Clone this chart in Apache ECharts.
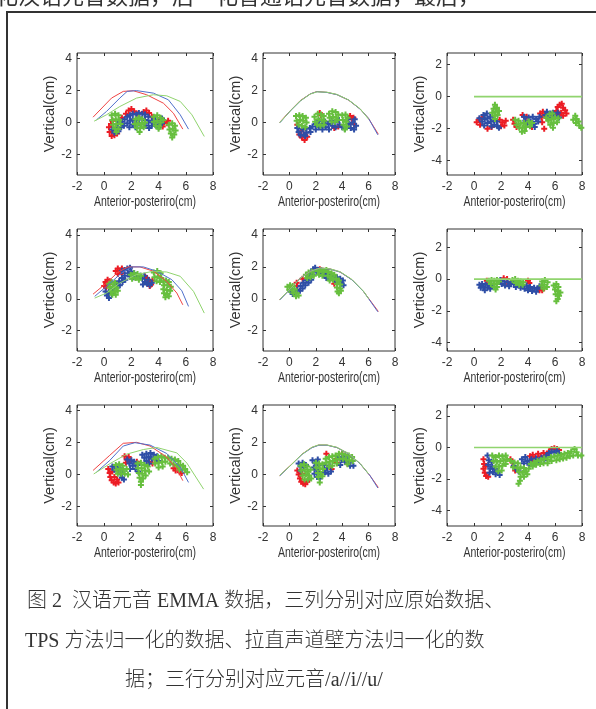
<!DOCTYPE html>
<html><head><meta charset="utf-8">
<script src="https://cdn.jsdelivr.net/npm/echarts@6/dist/echarts.min.js"></script>
<style>html,body{margin:0;padding:0;background:#fff}#c{width:596px;height:709px}</style>
</head><body><div id="c"></div>
<script>
// ---------- tick labels ----------
const xTicks = [-2, 0, 2, 4, 6, 8];
const yTicksTongue = [-2, 0, 2, 4];
const yTicksFlat = [-4, -2, 0, 2];
const xName = 'Anterior-posteriro(cm)';
const yName = 'Vertical(cm)';

// ---------- panel 1: /a/ raw ----------
const p1LineR = [[-0.82,0.33],[0.54,1.53],[1.4,1.95],[2.14,1.99],[3.12,1.74],[4.35,1.21],[5.09,0.58],[5.78,-0.42]];
const p1LineB = [[-0.57,0.16],[0.17,0.69],[1.15,1.53],[1.69,1.95],[2.38,2.0],[3.62,1.84],[4.72,1.42],[5.59,0.48],[6.2,-0.42]];
const p1LineG = [[-0.74,0.08],[0.17,0.48],[1.15,1.0],[2.38,1.53],[3.62,1.74],[4.6,1.67],[5.59,1.32],[6.45,0.48],[7.36,-0.88]];
const p1R = [[0.35,-0.3],[0.4,-0.6],[0.55,-0.85],[0.75,-0.8],[0.5,-0.1],[0.7,-0.5],[0.95,-0.7],[0.6,0.1],[1.3,0.3],[1.6,0.55],[1.8,0.75],[2.0,0.85],[2.2,0.7],[2.5,0.55],[2.9,0.65],[3.1,0.75],[3.3,0.6],[3.5,0.35],[3.7,0.15],[4.1,0.2],[4.4,0.0],[4.6,-0.05],[4.7,0.1],[4.3,-0.25]];
const p1B = [[0.6,-0.45],[0.75,-0.65],[0.9,-0.35],[1.05,-0.55],[1.0,-0.1],[1.25,-0.3],[1.3,0.05],[1.5,0.2],[1.45,-0.2],[1.7,0.35],[1.7,-0.05],[1.9,0.45],[1.9,0.1],[1.85,-0.3],[2.1,0.55],[2.1,0.2],[2.1,-0.15],[2.35,0.5],[2.35,0.15],[2.3,-0.3],[2.55,0.6],[2.6,0.3],[2.55,-0.05],[2.8,0.55],[2.8,0.2],[3.0,0.5],[3.0,0.15],[3.05,-0.2],[3.25,0.35],[3.25,0.0],[3.3,-0.35],[3.5,0.1],[3.5,-0.2],[3.75,0.15],[3.75,-0.15],[4.0,0.0],[4.0,-0.3],[4.25,-0.05],[4.25,0.25]];
const p1G = [[0.55,0.45],[0.8,0.55],[1.05,0.45],[0.6,0.15],[0.85,0.2],[1.1,0.15],[0.65,-0.15],[0.9,-0.1],[1.2,-0.1],[0.8,-0.4],[1.05,-0.4],[0.9,-0.6],[2.3,0.2],[2.55,0.3],[2.8,0.2],[3.0,0.0],[2.25,-0.1],[2.5,-0.05],[2.75,-0.1],[2.4,-0.35],[2.65,-0.35],[2.9,-0.3],[2.6,-0.6],[3.65,0.35],[3.9,0.45],[4.15,0.3],[3.65,0.05],[3.9,0.1],[4.15,0.0],[4.35,0.15],[3.8,-0.2],[4.05,-0.25],[4.0,-0.4],[4.75,-0.15],[5.0,-0.05],[5.2,-0.2],[4.8,-0.45],[5.05,-0.4],[5.25,-0.5],[4.9,-0.7],[5.15,-0.75],[5.0,-0.95]];

// ---------- panel 2: /a/ TPS ----------
const p2LineR = [[-0.74,0.0],[0.07,0.74],[0.82,1.37],[1.58,1.79],[2.08,1.94],[2.84,1.89],[3.59,1.75],[4.47,1.41],[5.36,0.84],[5.98,0.27],[6.74,-0.74]];
const p2LineB = [[-0.72,-0.02],[0.1,0.75],[0.85,1.36],[1.6,1.8],[2.1,1.93],[2.86,1.88],[3.62,1.74],[4.5,1.4],[5.38,0.82],[6.0,0.25],[6.7,-0.78]];
const p2LineG = [[-0.74,-0.02],[0.07,0.72],[0.82,1.35],[1.58,1.78],[2.08,1.92],[2.84,1.9],[3.59,1.76],[4.47,1.42],[5.36,0.86],[6.0,0.2]];
const p2R = [[0.75,-0.75],[0.95,-0.95],[1.15,-1.1],[1.35,-0.9],[0.9,-0.55],[2.3,0.6],[2.4,0.45],[3.4,-0.35],[3.7,-0.25],[4.6,0.4],[4.75,0.2],[4.85,0.3],[4.9,-0.1],[0.6,-0.15]];
const p2B = [[0.6,-0.35],[0.7,-0.6],[0.85,-0.8],[1.0,-0.45],[1.1,-0.75],[1.25,-0.4],[1.3,-0.65],[1.55,-0.35],[1.6,-0.6],[1.75,-0.25],[1.2,-0.85],[2.0,-0.1],[2.0,-0.45],[2.25,0.1],[2.25,-0.3],[2.45,-0.1],[2.5,-0.45],[2.7,0.05],[2.75,-0.3],[2.95,-0.1],[3.0,-0.45],[3.2,0.1],[3.25,-0.2],[3.45,0.0],[3.5,-0.3],[3.75,0.15],[3.8,-0.15],[4.0,-0.3],[4.2,-0.4],[4.45,0.2],[4.5,-0.1],[4.65,-0.35],[4.8,0.0],[4.9,-0.45],[5.05,-0.2],[4.95,0.2]];
const p2G = [[0.5,0.4],[0.75,0.45],[1.0,0.4],[1.25,0.3],[0.55,0.1],[0.8,0.15],[1.05,0.1],[1.3,0.0],[0.7,-0.15],[0.95,-0.2],[1.2,-0.3],[1.9,0.35],[2.15,0.55],[2.4,0.5],[2.6,0.4],[1.95,0.05],[2.2,0.2],[2.45,0.15],[2.65,0.1],[2.1,-0.15],[2.35,-0.2],[2.6,-0.15],[3.0,0.55],[3.25,0.7],[3.5,0.65],[3.7,0.5],[3.05,0.3],[3.3,0.35],[3.55,0.3],[3.2,0.05],[3.45,0.05],[3.65,0.15],[4.0,0.45],[4.25,0.5],[4.4,0.3],[4.05,0.15],[4.3,0.05],[4.1,-0.15],[4.35,-0.25],[4.2,-0.45]];

// ---------- panel 3: /a/ straightened ----------
const p3LineG = [[0,0],[8,0]];
const p3R = [[0.2,-1.6],[0.35,-1.45],[0.45,-1.75],[0.6,-1.3],[1.0,-2.0],[1.3,-1.9],[1.9,-1.45],[2.1,-1.6],[2.25,-1.8],[2.35,-1.5],[2.0,-1.85],[2.9,-1.45],[3.0,-1.7],[3.15,-1.9],[3.6,-1.15],[3.9,-1.25],[4.3,-1.9],[4.9,-1.05],[5.0,-1.3],[5.1,-0.95],[5.05,-1.6],[5.25,-1.2],[6.1,-0.9],[6.2,-0.65],[6.35,-0.5],[6.5,-0.45],[6.6,-0.7],[6.75,-0.85],[6.45,-1.0],[6.3,-1.1],[6.85,-1.05],[6.6,-1.2],[5.8,-1.15],[5.2,-2.0]];
const p3B = [[0.4,-1.35],[0.6,-1.55],[0.7,-1.15],[0.8,-1.4],[0.75,-1.8],[0.95,-1.05],[1.0,-1.35],[1.0,-1.65],[1.2,-1.25],[1.25,-1.55],[1.3,-1.85],[1.45,-1.45],[1.5,-1.75],[1.7,-1.55],[1.75,-1.85],[1.85,-1.95],[3.7,-1.25],[3.8,-1.5],[3.95,-1.7],[4.05,-1.3],[4.2,-1.55],[4.35,-1.25],[4.45,-1.7],[4.6,-1.4],[4.75,-1.55],[4.85,-1.25],[4.5,-1.9],[5.3,-1.15],[5.5,-1.3],[5.65,-1.05],[5.85,-1.0],[6.0,-1.2],[6.2,-1.0],[6.3,-1.3],[5.4,-0.95]];
const p3G = [[1.55,-0.5],[1.45,-0.75],[1.7,-0.7],[1.35,-1.0],[1.6,-0.95],[1.85,-0.9],[1.5,-1.2],[1.75,-1.15],[1.55,-1.4],[3.05,-1.45],[3.3,-1.5],[3.15,-1.75],[3.45,-1.7],[3.7,-1.65],[3.35,-1.95],[3.6,-1.95],[3.85,-1.9],[3.55,-2.2],[3.75,-2.15],[4.05,-1.55],[4.3,-1.65],[4.15,-1.85],[5.35,-1.3],[5.6,-1.1],[5.8,-1.05],[5.5,-1.5],[5.75,-1.4],[6.0,-1.3],[6.25,-1.35],[5.65,-1.75],[5.9,-1.65],[6.15,-1.6],[5.85,-1.95],[7.35,-1.45],[7.5,-1.2],[7.6,-1.4],[7.55,-1.65],[7.75,-1.55],[7.8,-1.8],[7.95,-1.95]];

// ---------- panel 4: /i/ raw ----------
const p4LineR = [[-0.82,0.29],[0.17,0.99],[1.03,1.68],[1.77,2.0],[2.63,2.0],[3.62,1.73],[4.6,1.09],[5.34,0.36],[5.78,-0.38]];
const p4LineB = [[-0.7,0.15],[0.17,0.78],[1.28,1.62],[2.01,2.0],[2.88,2.0],[3.86,1.73],[4.97,1.2],[5.71,0.5],[6.2,-0.48]];
const p4LineG = [[-0.7,0.04],[0.17,0.36],[1.15,0.99],[2.38,1.52],[3.62,1.73],[4.6,1.68],[5.59,1.41],[6.57,0.46],[7.36,-0.9]];
const p4R = [[0.0,0.8],[0.1,1.05],[0.25,1.2],[0.3,0.9],[0.15,0.7],[0.4,1.1],[0.85,1.75],[1.0,1.9],[1.15,1.75],[1.3,1.9],[1.0,1.55],[1.3,1.6],[3.15,1.3],[3.3,1.1],[3.45,0.9],[3.55,1.15],[3.35,0.8],[3.0,1.4]];
const p4B = [[0.1,0.45],[0.2,0.2],[0.35,0.05],[0.35,0.4],[0.5,0.55],[0.55,0.3],[0.7,0.75],[0.75,0.5],[0.9,0.95],[0.95,0.7],[1.1,1.1],[1.15,0.85],[1.3,1.3],[1.35,1.05],[1.5,1.45],[1.55,1.2],[1.3,1.75],[1.5,1.8],[1.7,1.9],[1.9,1.95],[1.75,1.6],[2.0,1.7],[2.2,1.6],[1.9,1.4],[2.15,1.35],[2.35,1.45],[2.65,1.45],[2.8,1.25],[2.95,1.45],[3.0,1.05],[3.15,0.95],[3.25,1.2],[2.85,0.9],[3.35,0.85],[3.5,1.0]];
const p4G = [[0.35,0.95],[0.55,1.05],[0.8,1.0],[0.4,0.7],[0.65,0.75],[0.9,0.7],[0.5,0.45],[0.75,0.45],[1.0,0.5],[0.6,0.25],[0.85,0.25],[1.95,1.5],[2.2,1.6],[2.45,1.55],[2.7,1.45],[2.05,1.25],[2.3,1.3],[2.55,1.2],[3.65,1.65],[3.9,1.75],[4.15,1.6],[3.7,1.35],[3.95,1.4],[4.2,1.3],[3.85,1.1],[4.1,1.05],[4.35,1.1],[4.55,1.15],[4.75,1.05],[4.4,0.85],[4.65,0.85],[4.9,0.75],[4.35,0.6],[4.6,0.55],[4.85,0.5],[4.4,0.35],[4.65,0.3],[4.5,0.1],[4.75,0.15]];

// ---------- panel 5: /i/ TPS ----------
const p5LineR = [[-0.74,-0.06],[0.07,0.63],[0.82,1.3],[1.58,1.73],[2.33,1.94],[3.09,1.87],[3.84,1.68],[4.73,1.2],[5.61,0.46],[6.74,-0.8]];
const p5LineB = [[-0.72,-0.07],[0.1,0.64],[0.85,1.31],[1.6,1.74],[2.35,1.93],[3.1,1.86],[3.86,1.67],[4.75,1.18],[5.63,0.44],[6.7,-0.82]];
const p5LineG = [[-0.74,-0.05],[0.07,0.62],[0.82,1.29],[1.58,1.72],[2.33,1.93],[3.09,1.88],[3.84,1.7],[4.73,1.22],[5.61,0.48],[6.0,0.0]];
const p5R = [[0.55,1.0],[0.6,0.8],[2.85,1.6],[3.05,1.5],[3.45,1.2],[3.4,0.95],[1.0,1.25],[2.3,1.85]];
const p5B = [[0.1,0.45],[0.25,0.3],[0.45,0.35],[0.6,0.55],[0.8,0.5],[0.85,0.8],[1.0,0.65],[1.05,1.0],[1.2,0.85],[1.3,1.15],[1.45,1.0],[1.5,1.35],[1.65,1.2],[1.6,1.6],[1.75,1.5],[1.8,1.85],[1.95,1.95],[2.05,1.7],[2.2,1.8],[2.3,1.55],[2.45,1.7],[2.6,1.5],[2.7,1.75],[2.8,1.3],[2.95,1.55],[3.05,1.25],[3.2,1.35],[3.35,1.45],[3.5,1.1],[3.6,1.35],[3.75,1.05],[3.85,1.25],[3.95,0.95],[4.05,1.15],[4.1,0.85]];
const p5G = [[-0.15,0.75],[0.05,0.85],[0.25,0.8],[0.0,0.55],[0.2,0.6],[0.4,0.6],[0.3,0.35],[0.55,0.35],[0.7,0.2],[0.5,0.15],[1.25,1.5],[1.45,1.65],[1.7,1.7],[1.35,1.3],[1.6,1.35],[1.85,1.45],[2.15,1.75],[2.4,1.8],[2.6,1.7],[2.25,1.5],[2.5,1.45],[2.8,1.8],[2.95,1.7],[3.2,1.6],[2.9,1.45],[3.15,1.35],[3.4,1.5],[3.05,1.15],[3.3,1.2],[3.55,1.25],[3.75,1.15],[3.6,0.95],[3.85,0.9],[3.6,0.7],[3.85,0.65],[3.65,0.45],[3.9,0.5],[3.75,0.35]];

// ---------- panel 6: /i/ straightened ----------
const p6LineG = [[0,0],[8,0]];
const p6R = [[0.95,-0.1],[2.2,0.05],[2.45,0.0],[2.6,-0.3],[4.0,-0.1],[4.1,-0.25],[4.95,-0.55],[5.05,-0.7],[4.85,-0.7]];
const p6B = [[0.4,-0.35],[0.5,-0.55],[0.6,-0.3],[0.7,-0.5],[0.8,-0.7],[0.85,-0.35],[1.0,-0.55],[1.1,-0.3],[1.2,-0.6],[1.3,-0.4],[1.95,-0.05],[2.05,-0.3],[2.25,-0.15],[2.3,-0.4],[2.5,-0.2],[2.6,-0.45],[2.75,-0.25],[2.95,-0.3],[3.1,-0.5],[3.3,-0.35],[3.45,-0.55],[3.6,-0.4],[3.75,-0.6],[3.9,-0.4],[4.0,-0.7],[4.15,-0.5],[4.3,-0.75],[4.45,-0.55],[4.6,-0.8],[4.7,-0.6],[4.85,-0.45]];
const p6G = [[1.1,-0.1],[1.3,-0.05],[1.5,-0.1],[1.7,-0.05],[1.85,-0.15],[1.25,-0.3],[1.45,-0.3],[1.65,-0.3],[1.5,-0.5],[1.7,-0.5],[1.6,-0.65],[2.85,-0.05],[3.05,0.0],[3.25,-0.1],[3.45,-0.15],[3.65,-0.2],[3.1,-0.25],[3.35,-0.35],[3.6,-0.35],[5.05,-0.15],[5.25,-0.05],[5.45,-0.2],[5.0,-0.4],[5.2,-0.35],[5.4,-0.5],[5.15,-0.6],[5.9,-0.4],[6.1,-0.3],[6.25,-0.5],[6.0,-0.65],[6.2,-0.75],[6.4,-0.85],[6.05,-0.95],[6.3,-1.05],[6.2,-1.25],[6.1,-1.4]];

// ---------- panel 7: /u/ raw ----------
const p7LineR = [[-0.82,0.26],[0.41,1.21],[1.4,1.96],[2.38,2.02],[3.37,1.79],[4.6,1.1],[5.34,0.36],[5.78,-0.38]];
const p7LineB = [[-0.57,0.15],[0.41,0.89],[1.4,1.79],[2.26,2.0],[3.37,1.85],[4.6,1.32],[5.59,0.47],[6.2,-0.49]];
const p7LineG = [[-0.77,0.04],[0.41,0.68],[1.65,1.28],[2.88,1.57],[3.86,1.7],[5.34,1.36],[6.08,0.72],[7.31,-0.91]];
const p7R = [[0.3,0.35],[0.4,0.1],[0.45,-0.15],[0.55,-0.35],[0.7,-0.5],[0.85,-0.55],[0.6,0.2],[0.75,-0.15],[0.95,-0.3],[1.05,-0.5],[1.5,1.15],[1.65,0.95],[1.8,1.1],[1.95,0.85],[1.6,0.75],[2.4,0.8],[3.3,0.8],[3.55,0.7],[5.1,0.4],[5.25,0.25],[5.4,0.4],[5.55,0.15],[5.7,0.1]];
const p7B = [[0.6,0.5],[0.75,0.3],[0.9,0.5],[1.0,0.25],[1.15,0.4],[1.2,0.05],[1.35,0.2],[1.3,-0.2],[1.45,-0.3],[1.7,0.95],[1.85,0.7],[2.0,0.9],[2.1,0.55],[2.2,0.8],[1.9,0.35],[2.3,0.35],[2.45,0.6],[2.5,0.2],[2.8,1.25],[2.95,1.05],[3.1,1.3],[3.1,0.85],[3.25,1.1],[3.4,1.35],[3.5,1.0],[3.65,1.25],[3.75,0.95],[3.9,1.15],[4.0,0.85],[3.3,0.7]];
const p7G = [[0.85,0.6],[1.1,0.65],[1.35,0.55],[0.9,0.3],[1.15,0.35],[1.4,0.3],[1.65,0.35],[1.0,0.05],[1.25,0.05],[1.5,0.05],[1.75,0.0],[2.45,0.7],[2.7,0.75],[2.95,0.6],[3.2,0.5],[2.5,0.4],[2.75,0.4],[3.0,0.25],[3.3,0.2],[2.55,0.1],[2.8,0.05],[3.05,-0.05],[2.6,-0.2],[2.85,-0.25],[2.7,-0.45],[2.7,-0.65],[3.7,1.0],[3.95,1.1],[4.2,1.15],[4.45,1.05],[3.75,0.7],[4.0,0.75],[4.25,0.8],[4.5,0.8],[4.0,0.45],[4.3,0.5],[4.7,1.05],[4.95,1.0],[5.2,0.95],[5.45,0.85],[4.85,0.7],[5.1,0.65],[5.35,0.55],[5.6,0.6],[5.8,0.55],[5.5,0.3],[5.75,0.3],[5.95,0.35],[6.1,0.15]];

// ---------- panel 8: /u/ TPS ----------
const p8LineR = [[-0.74,-0.06],[0.07,0.57],[0.95,1.28],[1.7,1.7],[2.21,1.85],[2.84,1.85],[3.59,1.7],[4.47,1.32],[5.36,0.68],[6.1,-0.06],[6.74,-0.81]];
const p8LineB = [[-0.72,-0.07],[0.1,0.58],[0.97,1.27],[1.72,1.69],[2.23,1.84],[2.86,1.84],[3.61,1.69],[4.49,1.3],[5.38,0.66],[6.12,-0.08],[6.7,-0.84]];
const p8LineG = [[-0.74,-0.05],[0.07,0.56],[0.95,1.27],[1.7,1.71],[2.21,1.86],[2.84,1.86],[3.59,1.71],[4.47,1.33],[5.36,0.7],[6.0,0.05]];
const p8R = [[0.6,0.25],[0.7,0.0],[0.8,-0.25],[0.9,-0.45],[1.05,-0.55],[1.2,-0.6],[1.35,-0.45],[1.45,-0.3],[0.95,0.05],[2.8,1.3],[3.45,0.85],[3.6,0.75],[4.0,1.3],[3.2,0.35],[4.4,0.7]];
const p8B = [[0.7,0.7],[0.85,0.5],[1.0,0.75],[1.1,0.45],[1.25,0.6],[0.85,0.25],[1.75,0.9],[1.95,0.75],[2.15,0.95],[2.2,0.6],[1.85,0.45],[2.05,0.3],[2.25,0.15],[1.9,0.05],[2.1,-0.15],[2.3,-0.25],[2.65,0.6],[2.85,0.4],[3.05,0.55],[2.7,0.15],[2.95,0.05],[3.15,0.2],[3.75,1.1],[3.95,0.9],[4.1,1.15],[4.2,0.8],[4.35,1.0],[4.5,0.75],[4.6,0.55],[3.85,0.6],[4.85,0.55]];
const p8G = [[0.85,0.55],[1.1,0.65],[1.35,0.5],[0.9,0.25],[1.15,0.3],[1.4,0.2],[1.6,0.3],[1.0,-0.05],[1.25,0.0],[1.5,-0.05],[1.15,-0.3],[1.4,-0.3],[1.65,-0.25],[2.0,0.75],[2.25,0.7],[2.5,0.65],[2.05,0.45],[2.3,0.4],[2.55,0.35],[2.15,0.1],[2.4,0.05],[2.2,-0.15],[2.5,-0.1],[2.3,-0.5],[2.75,1.0],[3.0,1.1],[3.25,1.15],[2.8,0.75],[3.05,0.8],[3.3,0.85],[3.0,0.5],[3.25,0.55],[3.5,1.2],[3.75,1.3],[4.0,1.3],[4.25,1.25],[4.5,1.2],[4.75,1.1],[3.55,0.95],[3.8,1.0],[4.05,1.0],[4.3,0.95],[4.55,0.9],[4.8,0.85],[3.6,0.7],[4.4,0.65]];

// ---------- panel 9: /u/ straightened ----------
const p9LineG = [[0,0],[8,0]];
const p9R = [[0.7,-0.75],[0.75,-1.05],[0.7,-1.35],[0.8,-1.6],[0.9,-1.8],[1.05,-1.85],[0.85,-1.2],[2.7,-0.75],[2.85,-0.95],[2.95,-1.2],[3.05,-1.45],[4.15,-0.55],[4.35,-0.45],[4.55,-0.6],[4.75,-0.4],[4.95,-0.55],[5.15,-0.35],[5.35,-0.45],[5.55,-0.25],[5.75,-0.1],[5.95,-0.05],[6.15,-0.1],[6.3,-0.15],[4.3,-0.85]];
const p9B = [[1.0,-0.5],[1.1,-0.8],[1.05,-1.1],[1.2,-1.35],[1.15,-1.6],[1.35,-1.2],[1.4,-1.55],[1.55,-1.35],[1.6,-1.7],[1.75,-1.5],[1.9,-1.75],[1.3,-0.9],[2.95,-1.15],[3.1,-1.35],[3.3,-1.5],[3.55,-0.75],[3.7,-1.0],[3.8,-0.6],[3.95,-0.85],[4.1,-1.1],[4.25,-0.75],[4.45,-1.0],[4.6,-0.7],[4.8,-0.9],[5.0,-0.65],[5.2,-0.8],[5.35,-0.5],[5.55,-0.35],[5.75,-0.25],[5.95,-0.3],[6.15,-0.2],[6.25,-0.35]];
const p9G = [[1.35,-0.5],[1.6,-0.6],[1.85,-0.5],[2.1,-0.55],[2.35,-0.5],[1.45,-0.85],[1.7,-0.9],[1.95,-0.85],[2.2,-0.8],[2.45,-0.75],[1.6,-1.2],[1.85,-1.2],[2.1,-1.15],[2.35,-1.05],[1.8,-1.5],[2.05,-1.45],[2.75,-0.85],[3.0,-0.95],[3.25,-1.0],[2.9,-1.25],[3.2,-1.3],[3.45,-1.25],[3.7,-1.3],[3.35,-1.55],[3.6,-1.6],[3.85,-1.5],[4.05,-1.35],[3.45,-1.85],[3.7,-1.85],[3.95,-1.7],[3.4,-2.1],[3.3,-2.3],[4.2,-1.05],[4.45,-0.95],[4.7,-0.85],[4.95,-0.8],[5.2,-0.7],[5.45,-0.75],[5.7,-0.6],[4.35,-1.2],[4.6,-1.1],[4.9,-1.05],[5.15,-1.0],[5.45,-1.0],[5.75,-0.85],[5.95,-0.55],[6.2,-0.5],[6.45,-0.45],[6.7,-0.4],[6.95,-0.35],[7.2,-0.25],[7.45,-0.1],[7.6,-0.3],[6.1,-0.8],[6.35,-0.75],[6.6,-0.7],[6.85,-0.65],[7.1,-0.55],[7.35,-0.5],[7.7,-0.5],[7.95,-0.5]];

// ---------- caption ----------
const topCut = '化汉语元音数据，后一化普通话元音数据，最后，';
const caption = ['图 2  汉语元音 EMMA 数据，三列分别对应原始数据、', 'TPS 方法归一化的数据、拉直声道壁方法归一化的数', '据；三行分别对应元音/a//i//u/'];

// ---------- build ----------
const panels = [
  {lr:p1LineR, lb:p1LineB, lg:p1LineG, r:p1R, b:p1B, g:p1G, yMin:-3.3, yMax:4.36, yt:yTicksTongue},
  {lr:p2LineR, lb:p2LineB, lg:p2LineG, r:p2R, b:p2B, g:p2G, yMin:-3.3, yMax:4.36, yt:yTicksTongue},
  {lr:null, lb:null, lg:p3LineG, r:p3R, b:p3B, g:p3G, yMin:-4.9, yMax:2.73, yt:yTicksFlat},
  {lr:p4LineR, lb:p4LineB, lg:p4LineG, r:p4R, b:p4B, g:p4G, yMin:-3.28, yMax:4.38, yt:yTicksTongue},
  {lr:p5LineR, lb:p5LineB, lg:p5LineG, r:p5R, b:p5B, g:p5G, yMin:-3.28, yMax:4.38, yt:yTicksTongue},
  {lr:null, lb:null, lg:p6LineG, r:p6R, b:p6B, g:p6G, yMin:-4.52, yMax:3.15, yt:yTicksFlat},
  {lr:p7LineR, lb:p7LineB, lg:p7LineG, r:p7R, b:p7B, g:p7G, yMin:-3.22, yMax:4.36, yt:yTicksTongue},
  {lr:p8LineR, lb:p8LineB, lg:p8LineG, r:p8R, b:p8B, g:p8G, yMin:-3.22, yMax:4.36, yt:yTicksTongue},
  {lr:null, lb:null, lg:p9LineG, r:p9R, b:p9B, g:p9G, yMin:-4.98, yMax:2.7, yt:yTicksFlat}
];
const colLeft = [77, 263, 447], colW = [136, 132, 135];
const rowTop = [53, 229, 405], rowH = [122, 122, 121];
const SANS = "'Liberation Sans', Arial, sans-serif";
const AX = '#333';
const RED = '#ec1c24', BLUE = '#2e4ea6', GREEN = '#67bf3e';
const LRED = '#f04444', LBLUE = '#5070cc', LGREEN = '#90d46e';
const PLUS = 'path://M2,0H4V2H6V4H4V6H2V4H0V2H2Z';

const grids = [], xAxes = [], yAxes = [], series = [], graphic = [];
panels.forEach((p, i) => {
  const c = i % 3, r = Math.floor(i / 3);
  grids.push({left: colLeft[c], top: rowTop[r], width: colW[c], height: rowH[r], show: true,
    borderColor: AX, borderWidth: 1, backgroundColor: 'transparent', outerBoundsMode: 'none', containLabel: false});
  const xi = xAxes.length, yi = yAxes.length;
  xAxes.push({type: 'value', gridIndex: i, min: -2, max: 8, interval: 2, position: 'bottom',
    axisLine: {show: false, onZero: false}, splitLine: {show: false},
    axisTick: {inside: true, length: 3, lineStyle: {color: AX}},
    axisLabel: {margin: 6, fontSize: 12, fontFamily: SANS, color: AX, showMinLabel: true, showMaxLabel: true, hideOverlap: false}});
  xAxes.push({type: 'value', gridIndex: i, min: -2, max: 8, interval: 2, position: 'top',
    axisLine: {show: false, onZero: false}, splitLine: {show: false}, axisLabel: {show: false},
    axisTick: {inside: true, length: 3, lineStyle: {color: AX}}});
  yAxes.push({type: 'value', gridIndex: i, min: p.yMin, max: p.yMax, position: 'left',
    axisLine: {show: false, onZero: false}, splitLine: {show: false},
    axisTick: {inside: true, length: 3, customValues: p.yt, lineStyle: {color: AX}},
    axisLabel: {margin: 5, customValues: p.yt, fontSize: 12, fontFamily: SANS, color: AX},
    name: yName, nameLocation: 'middle', nameGap: 15, nameRotate: 90,
    nameTextStyle: {fontSize: 14.5, fontFamily: SANS, color: AX}});
  yAxes.push({type: 'value', gridIndex: i, min: p.yMin, max: p.yMax, position: 'right',
    axisLine: {show: false, onZero: false}, splitLine: {show: false}, axisLabel: {show: false},
    axisTick: {inside: true, length: 3, customValues: p.yt, lineStyle: {color: AX}}});
  // x-axis title, horizontally condensed like the source figure
  graphic.push({type: 'text', x: colLeft[c] + colW[c] / 2, y: rowTop[r] + rowH[r] + 27, scaleX: 0.75, silent: true,
    style: {text: xName, font: "14px 'Liberation Sans'", fill: AX, textAlign: 'center', textVerticalAlign: 'middle'}});
  const ln = (d, col, w) => d && series.push({type: 'line', xAxisIndex: xi, yAxisIndex: yi, data: d,
    showSymbol: false, symbol: 'none', lineStyle: {color: col, width: w}, silent: true, animation: false});
  const sc = (d, col) => series.push({type: 'scatter', xAxisIndex: xi, yAxisIndex: yi, data: d,
    symbol: PLUS, symbolSize: 6, itemStyle: {color: col, opacity: 1}, silent: true, animation: false});
  ln(p.lr, LRED, 1); ln(p.lb, LBLUE, 1); ln(p.lg, LGREEN, p.lr ? 1 : 1.6);
  sc(p.r, RED); sc(p.b, BLUE); sc(p.g, GREEN);
});

const CAPFONT = "300 20px 'Liberation Serif', 'Noto Sans CJK SC'";
graphic.push(
  {type: 'rect', shape: {x: 7, y: 12, width: 620, height: 720}, style: {fill: 'none', stroke: '#333', lineWidth: 2}, silent: true},
  {type: 'text', x: -4, y: 7, style: {text: topCut, font: "22px 'Noto Sans CJK SC'", fill: '#333', textVerticalAlign: 'bottom'}, silent: true},
  {type: 'text', x: 27, y: 602, style: {text: caption[0], font: CAPFONT, fill: '#333', textVerticalAlign: 'middle'}, silent: true},
  {type: 'text', x: 25, y: 642, style: {text: caption[1], font: CAPFONT, fill: '#333', textVerticalAlign: 'middle'}, silent: true},
  {type: 'text', x: 254, y: 681, style: {text: caption[2], font: CAPFONT, fill: '#333', textAlign: 'center', textVerticalAlign: 'middle'}, silent: true}
);

const chart = echarts.init(document.getElementById('c'), null, {renderer: 'canvas'});
chart.setOption({animation: false, backgroundColor: '#fff', grid: grids, xAxis: xAxes, yAxis: yAxes, series: series, graphic: graphic});
</script></body></html>
